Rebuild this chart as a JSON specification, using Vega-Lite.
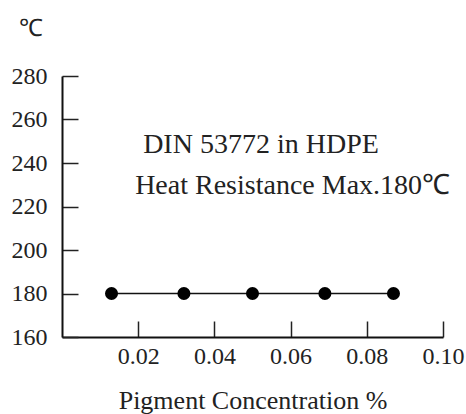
{
  "$schema": "https://vega.github.io/schema/vega-lite/v6.json",
  "width": 381,
  "height": 261,
  "autosize": {"type": "none"},
  "padding": {"left": 62, "top": 76, "right": 23, "bottom": 77},
  "background": "white",
  "config": {
    "view": {"stroke": null},
    "font": "Liberation Serif",
    "axis": {
      "domainColor": "#111",
      "domainWidth": 2,
      "tickColor": "#222",
      "tickWidth": 1.5,
      "grid": false,
      "labelFont": "Liberation Serif",
      "titleFont": "Liberation Serif",
      "labelColor": "#222",
      "titleColor": "#222",
      "titleFontWeight": "normal"
    }
  },
  "datasets": {
    "points": [
      {"conc": 0.013, "temp": 180},
      {"conc": 0.032, "temp": 180},
      {"conc": 0.050, "temp": 180},
      {"conc": 0.069, "temp": 180},
      {"conc": 0.087, "temp": 180}
    ],
    "notes": [
      {"conc": 0.0213, "temp": 248.5, "label": "DIN 53772 in HDPE"},
      {"conc": 0.0192, "temp": 229.5, "label": "Heat Resistance Max.180℃"}
    ]
  },
  "layer": [
    {
      "data": {"name": "points"},
      "mark": {"type": "line", "color": "#111", "strokeWidth": 1.5},
      "encoding": {
        "x": {
          "field": "conc", "type": "quantitative",
          "scale": {"domain": [0, 0.1], "nice": false, "zero": true},
          "axis": {
            "values": [0.02, 0.04, 0.06, 0.08, 0.1],
            "format": ".2f",
            "tickSize": -16,
            "labelPadding": 23,
            "labelFontSize": 24,
            "labelFlush": false,
            "labelOverlap": false,
            "title": "Pigment  Concentration %",
            "titleFontSize": 26,
            "titlePadding": 19
          }
        },
        "y": {
          "field": "temp", "type": "quantitative",
          "scale": {"domain": [160, 280], "nice": false, "zero": false},
          "axis": {
            "values": [160, 180, 200, 220, 240, 260, 280],
            "tickSize": -16,
            "labelPadding": 31,
            "labelFontSize": 24,
            "labelFlush": false,
            "labelOverlap": false,
            "title": "℃",
            "titleAngle": 0,
            "titleFontSize": 24,
            "titleX": -32,
            "titleY": -48,
            "titleAlign": "center",
            "titleBaseline": "middle"
          }
        }
      }
    },
    {
      "data": {"name": "points"},
      "mark": {"type": "circle", "color": "#000", "opacity": 1, "size": 170},
      "encoding": {
        "x": {"field": "conc", "type": "quantitative"},
        "y": {"field": "temp", "type": "quantitative"}
      }
    },
    {
      "data": {"name": "notes"},
      "mark": {"type": "text", "align": "left", "baseline": "middle", "fontSize": 28, "color": "#222", "font": "Liberation Serif"},
      "encoding": {
        "x": {"field": "conc", "type": "quantitative"},
        "y": {"field": "temp", "type": "quantitative"},
        "text": {"field": "label"}
      }
    }
  ]
}
